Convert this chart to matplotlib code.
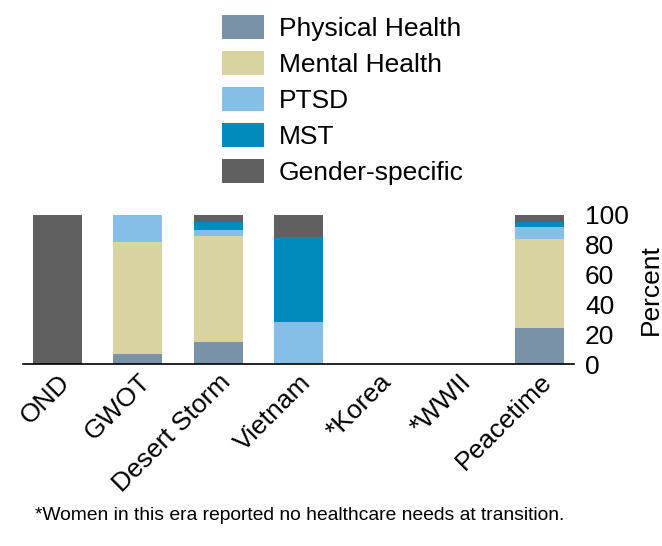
import numpy as np
import matplotlib.pyplot as plt
from matplotlib.patches import Patch

plt.rcParams["font.family"] = ["Liberation Sans", "DejaVu Sans"]

eras = ["OND", "GWOT", "Desert Storm", "Vietnam", "*Korea", "*WWII", "Peacetime"]
categories = ["Physical Health", "Mental Health", "PTSD", "MST", "Gender-specific"]
colors = ["#7a92a8", "#d8d3a0", "#85bfe8", "#008bbc", "#606060"]

physical = [0, 7, 15, 0, 0, 0, 24]
mental = [0, 75, 71, 0, 0, 0, 60]
ptsd = [0, 18, 4, 28, 0, 0, 8]
mst = [0, 0, 5.5, 57, 0, 0, 3.5]
gender = [100, 0, 4.5, 15, 0, 0, 4.5]
series = [physical, mental, ptsd, mst, gender]

fig = plt.figure(figsize=(6.62, 5.46), dpi=100)
ax = fig.add_axes([23 / 662, 1 - 364.3 / 546, 551 / 662, 149.3 / 546])

x = np.arange(len(eras))
bottom = np.zeros(len(eras))
for vals, c in zip(series, colors):
    ax.bar(x, vals, 0.61, bottom=bottom, color=c, edgecolor="none")
    bottom += np.array(vals)

ax.set_xlim(-0.43, 6.43)
ax.set_ylim(0, 100)
ax.set_yticks([0, 20, 40, 60, 80, 100])
ax.yaxis.tick_right()
ax.yaxis.set_label_position("right")
ax.tick_params(axis="y", length=0, labelsize=19, pad=8)
ax.tick_params(axis="x", length=0, labelsize=19, pad=4)
ax.set_ylabel("Percent", fontsize=19, labelpad=7)
ax.set_xticks(x)
ax.set_xticklabels(eras, rotation=45, ha="right", rotation_mode="anchor")
for s in ["top", "left", "right"]:
    ax.spines[s].set_visible(False)
ax.spines["bottom"].set_linewidth(1.2)

handles = [Patch(facecolor=c, edgecolor="none") for c in colors]
fig.legend(handles, categories, loc="upper left", bbox_to_anchor=(198 / 662, 1 + 9 / 546),
           frameon=False, fontsize=19, handlelength=1.59, handleheight=1.02,
           handletextpad=0.57, labelspacing=0.38)

fig.text(35 / 662, 1 - 515 / 546, "*Women in this era reported no healthcare needs at transition.",
         fontsize=13.85, va="center")

fig.savefig("out.png", dpi=100)
